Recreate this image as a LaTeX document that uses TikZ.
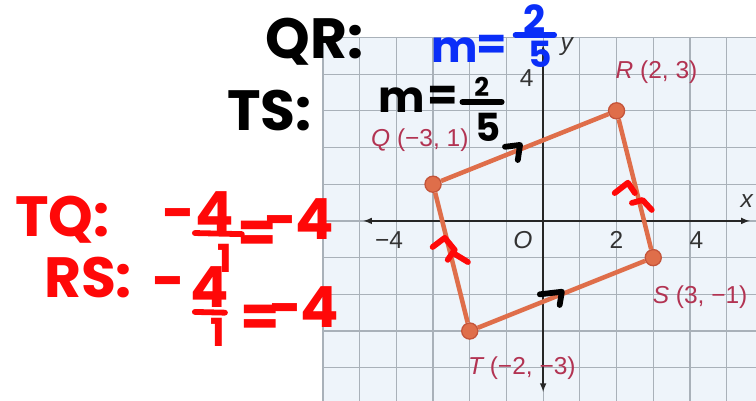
\documentclass[tikz,border=0pt]{standalone}
\usepackage{fontspec}
\setmainfont{Liberation Sans}
\newfontfamily\hand{Poppins}
\usepackage{xcolor}
\usepackage{tikz}
\usetikzlibrary{calc, positioning}

\definecolor{luoi}{HTML}{A9B1B9}
\definecolor{nenluoi}{HTML}{EEF4FA}
\definecolor{canh}{HTML}{DF6E4A}
\definecolor{vien}{HTML}{C4543A}
\definecolor{nhan}{HTML}{B23352}
\definecolor{butxanh}{HTML}{0A2EF8}
\definecolor{butdo}{HTML}{FF0808}

\begin{document}
\begin{tikzpicture}[>=latex,
    dinh/.style={circle, fill=canh, draw=vien, line width=1pt, inner sep=0pt, minimum size=0.44cm},
    toado/.style={text=nhan, font=\fontsize{19}{19}\selectfont, inner sep=0pt},
    so/.style={text=black!80, font=\fontsize{19}{19}\selectfont, inner sep=0pt},
    viet/.style={font=\hand\bfseries\fontsize{44}{44}\selectfont, inner sep=0pt},
    vietnho/.style={font=\hand\bfseries\fontsize{30}{30}\selectfont, inner sep=0pt},
    netbut/.style={line width=4.5pt, line cap=round, line join=round}]
    \useasboundingbox (-14.80,-4.90) rectangle (5.80,6.02);

    % Lưới tọa độ
    \fill[nenluoi] (-6,-4.9) rectangle (5.8,5);
    \draw[luoi, line width=0.9pt] (-6,-4.9) grid (5.8,5);

    % Hệ trục
    \draw[<->, line width=1.3pt, black!85] (-4.9,0) -- (5.63,0);
    \draw[<->, line width=1.3pt, black!85] (0,-4.66) -- (0,4.8);
    \node[so, font=\fontsize{19}{19}\selectfont\itshape] (nx) at (5.55,0.55) {x};
    \node[so, font=\fontsize{19}{19}\selectfont\itshape] (ny) at (0.64,4.74) {y};
    \node[so] (y4) at (-0.45,3.88) {4};
    \node[so] (xm4) at (-4.2,-0.52) {−4};
    \node[so, font=\fontsize{19}{19}\selectfont\itshape] (O) at (-0.55,-0.52) {O};
    \node[so] (x2) at (2.0,-0.52) {2};
    \node[so] (x4) at (4.18,-0.52) {4};

    % Tứ giác QRST
    \node[dinh] (Q) at (-3,1) {};
    \node[dinh] (R) at (2,3) {};
    \node[dinh] (S) at (3,-1) {};
    \node[dinh] (T) at (-2,-3) {};
    \draw[canh, line width=3.5pt] (Q) -- (R);
    \draw[canh, line width=3.5pt] (R) -- (S);
    \draw[canh, line width=3.5pt] (S) -- (T);
    \draw[canh, line width=3.5pt] (T) -- (Q);
    \node[toado] (lQ) at (-3.36,2.2) {{\itshape Q} (−3, 1)};
    \node[toado] (lR) at (3.09,4.06) {{\itshape R} (2, 3)};
    \node[toado, anchor=west] (lS) at (2.98,-2.07) {{\itshape S} (3, −1)};
    \node[toado] (lT) at (-0.58,-4.0) {{\itshape T} (−2, −3)};

    % Chữ viết tay: QR, TS
    \node[viet] (qr) at (-6.22,4.88) {QR:};
    \node[viet] (ts) at (-7.45,3.02) {TS:};
    \node[viet, text=butxanh, font=\hand\bfseries\fontsize{34}{34}\selectfont] (m1) at (-2.41,4.66) {m};
    \node[viet, text=butxanh, font=\hand\bfseries\fontsize{34}{34}\selectfont] (eq1) at (-1.40,4.72) {=};
    \node[vietnho, text=butxanh] (t1) at (-0.23,5.5) {2};
    \node[vietnho, text=butxanh, font=\hand\bfseries\fontsize{28}{28}\selectfont] (d1) at (-0.09,4.55) {5};
    \draw[netbut, butxanh] (-0.75,5.07) -- (0.3,5.07);
    \node[viet, font=\hand\bfseries\fontsize{34}{34}\selectfont] (m2) at (-3.85,3.30) {m};
    \node[viet, font=\hand\bfseries\fontsize{34}{34}\selectfont] (eq2) at (-2.73,3.35) {=};
    \node[vietnho, font=\hand\bfseries\fontsize{20}{20}\selectfont] (t2) at (-1.67,3.64) {2};
    \node[vietnho] (d2) at (-1.5,2.56) {5};
    \draw[netbut] (-2.2,3.24) -- (-1.13,3.24);

    % Chữ viết tay: TQ, RS
    \node[viet, text=butdo] (tq) at (-13.1,0.03) {TQ:};
    \node[viet, text=butdo] (a1) at (-9.95,0.0) {−};
    \node[viet, text=butdo] (a2) at (-8.95,0.25) {4};
    \draw[netbut, butdo] (-9.49,-0.33) -- (-8.21,-0.36);
    \node[vietnho, text=butdo] (a3) at (-8.68,-1.02) {1};
    \node[viet, text=butdo] (a4) at (-7.8,-0.42) {=};
    \node[viet, text=butdo] (a5) at (-6.65,0.05) {−4};
    \node[viet, text=butdo] (rs) at (-12.4,-1.55) {RS:};
    \node[viet, text=butdo] (b1) at (-10.22,-1.85) {−};
    \node[viet, text=butdo] (b2) at (-9.08,-1.8) {4};
    \draw[netbut, butdo] (-9.49,-2.48) -- (-8.67,-2.5);
    \node[vietnho, text=butdo] (b3) at (-8.86,-3.05) {1};
    \node[viet, text=butdo] (b4) at (-7.72,-2.72) {=};
    \node[viet, text=butdo] (b5) at (-6.5,-2.35) {−4};

    % Dấu song song
    \draw[netbut] (-1.04,2.02) -- (-0.63,2.07) -- (-0.69,1.66);
    \draw[netbut] (-0.09,-2.0) -- (0.51,-1.93) -- (0.45,-2.29);
    \draw[netbut, butdo] (-3.01,-0.71) -- (-2.68,-0.46) -- (-2.41,-0.79) -- (-2.60,-1.06);
    \draw[netbut, butdo] (-2.41,-0.90) -- (-2.05,-1.12);
    \draw[netbut, butdo] (1.95,0.76) -- (2.31,1.04) -- (2.50,0.76);
    \draw[netbut, butdo] (2.42,0.49) -- (2.71,0.57) -- (2.96,0.30);
\end{tikzpicture}
\end{document}
